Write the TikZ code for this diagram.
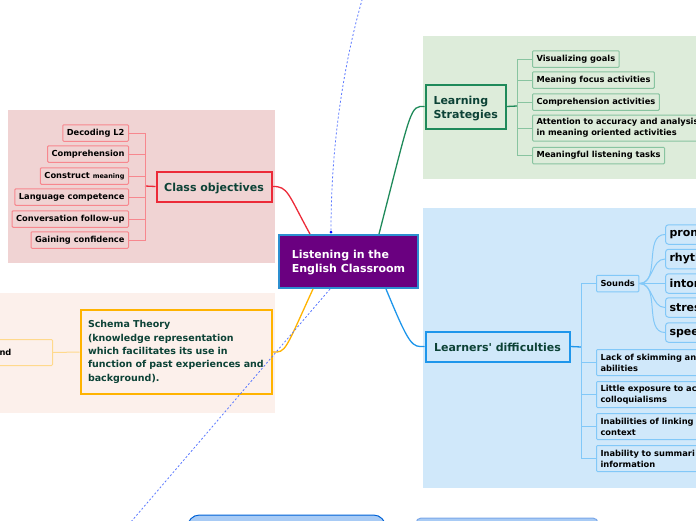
\documentclass[tikz,border=0pt]{standalone}
\usepackage{fontspec}
\setmainfont{DejaVu Sans}
\newfontfamily\plainfont{DejaVu Sans}
\usepackage{xcolor}
\usepackage{tikz}
\definecolor{rootfill}{RGB}{106,0,128}
\definecolor{rootline}{RGB}{45,143,208}
\definecolor{darkink}{RGB}{12,66,54}
\definecolor{redbg}{RGB}{240,211,211}
\definecolor{redline}{RGB}{236,42,56}
\definecolor{redsub}{RGB}{247,135,142}
\definecolor{orangebg}{RGB}{252,240,235}
\definecolor{orangeline}{RGB}{255,179,0}
\definecolor{orangesub}{RGB}{255,217,140}
\definecolor{greenbg}{RGB}{221,236,218}
\definecolor{greenline}{RGB}{31,138,90}
\definecolor{greensub}{RGB}{136,196,160}
\definecolor{bluebg}{RGB}{208,232,250}
\definecolor{blueline}{RGB}{30,150,235}
\definecolor{bluesub}{RGB}{130,200,248}
\definecolor{linkblue}{RGB}{90,120,255}
\definecolor{topicfill}{RGB}{168,203,245}
\definecolor{topicdark}{RGB}{0,98,214}
\definecolor{topiclight}{RGB}{123,167,232}
\tikzstyle{mainbox}=[draw,line width=2pt,font=\fontsize{11}{14}\selectfont\bfseries,text=darkink,align=left,inner sep=0pt]
\tikzstyle{subbox}=[draw,line width=1pt,rounded corners=1pt,font=\fontsize{8.3}{11}\selectfont\bfseries,text=black,align=left,inner xsep=4pt,inner ysep=0pt,minimum height=16.5pt]
\tikzstyle{bigbox}=[subbox,rounded corners=3pt,font=\fontsize{11}{12}\selectfont\bfseries,minimum height=19.5pt,text width=52pt]
\tikzstyle{mainlink}=[line width=1.3pt]
\tikzstyle{sublink}=[line width=1pt]
\tikzstyle{linkdash}=[linkblue,dash pattern=on 2pt off 2pt,line width=0.8pt]

\begin{document}
\begin{tikzpicture}[x=1pt,y=-1pt]

\useasboundingbox (0,0) rectangle (696,520);
\clip (0,0) rectangle (696,520);

\fill[redbg] (8,110) rectangle (275,263);
\fill[orangebg] (0,293) rectangle (275,413);
\fill[greenbg] (423,36) rectangle (696,179);
\fill[bluebg] (423,208) rectangle (696,488);

\node[mainbox, fill=rootfill, draw=rootline, text=white, minimum width=139pt, minimum height=53pt, anchor=north west] (root) at (278,234) {\rule{0pt}{11pt}Listening in the\\English Classroom};

\node[mainbox, draw=redline, fill=redbg, minimum width=115pt, minimum height=30pt, align=center] (classobj) at (214,186.5) {\raisebox{-1.5pt}[9pt][2pt]{Class objectives}};
\node[subbox, draw=redsub, anchor=east] (decoding) at (129,133) {Decoding L2};
\node[subbox, draw=redsub, anchor=east] (compr) at (129,154) {Comprehension};
\node[subbox, draw=redsub, anchor=east] (construct) at (129,176) {Construct {\fontsize{6.5}{8}\selectfont meaning}};
\node[subbox, draw=redsub, anchor=east] (language) at (129,197) {Language competence};
\node[subbox, draw=redsub, anchor=east] (convers) at (129,219) {Conversation follow-up};
\node[subbox, draw=redsub, anchor=east] (gaining) at (129,240) {Gaining confidence};
\coordinate (redbus) at (145,186);
\draw[redline, mainlink] (classobj.west) -- (redbus);
\foreach \n in {decoding,compr,construct,language,convers,gaining}
  \draw[redsub, sublink] (\n.east) -| (redbus);
\draw[redline, mainlink] (classobj.east) .. controls (288,186) and (288,194) .. ([xshift=32pt]root.north west);

\node[mainbox, draw=orangeline, fill=orangebg, minimum width=191pt, minimum height=84pt, text width=176pt, font=\fontsize{9.5}{13.3}\selectfont\bfseries] (schema) at (176,352) {Schema Theory\\(knowledge representation\\which facilitates its use in\\function of past experiences and\\background).};
\node[subbox, draw=orangesub, fill=orangebg, anchor=east, minimum height=26pt, align=right, inner xsep=42pt, text width=11pt] (background) at (53,352.5) {nd};
\draw[orangesub, sublink] (background.east) -- (schema.west);
\draw[orangeline, mainlink] (schema.east) .. controls (286,353) and (285,350) .. ([xshift=35pt]root.south west);

\node[mainbox, draw=greenline, fill=greenbg, minimum width=80pt, minimum height=44pt, text width=64pt] (learning) at (465.5,106.5) {\rule{0pt}{12pt}Learning\\Strategies};
\node[subbox, draw=greensub, anchor=west] (goals) at (532,59) {Visualizing goals};
\node[subbox, draw=greensub, anchor=west] (focus) at (532,80) {Meaning focus activities};
\node[subbox, draw=greensub, anchor=west] (comprehension) at (532,102) {Comprehension activities};
\node[subbox, draw=greensub, anchor=west, minimum height=26pt, text width=190pt] (attention) at (532,128) {Attention to accuracy and analysis\\in meaning oriented activities};
\node[subbox, draw=greensub, anchor=west] (tasks) at (532,155.5) {Meaningful listening tasks};
\coordinate (greenbus) at (517,106);
\draw[greenline, mainlink] (learning.east) -- (greenbus);
\foreach \n in {goals,focus,comprehension,attention,tasks}
  \draw[greensub, sublink] (\n.west) -| (greenbus);
\draw[greenline, mainlink] (learning.west) .. controls (410,106) and (412,106) .. ([xshift=101pt]root.north west);

\node[mainbox, draw=blueline, fill=bluebg, minimum width=144pt, minimum height=30pt, align=center] (difficult) at (497.5,346.5) {\raisebox{-1.5pt}[9pt][2pt]{\plainfont\bfseries Learners' difficulties}};
\node[subbox, draw=bluesub, anchor=west] (sounds) at (596,283.5) {Sounds};
\node[bigbox, draw=bluesub, anchor=west] (pron) at (665,234.5) {pron};
\node[bigbox, draw=bluesub, anchor=west] (rhyth) at (665,259) {rhyth};
\node[bigbox, draw=bluesub, anchor=west] (inton) at (665,283.5) {inton};
\node[bigbox, draw=bluesub, anchor=west] (stress) at (665,307.5) {stress};
\node[bigbox, draw=bluesub, anchor=west] (speed) at (665,332.5) {speed};
\foreach \n in {pron,rhyth,inton,stress,speed}
  \draw[bluesub, sublink] (sounds.east) to[out=0,in=180] (\n.west);
\node[subbox, draw=bluesub, anchor=west, minimum height=26pt, text width=142pt] (skimming) at (596,362.5) {Lack of skimming and\\abilities};
\node[subbox, draw=bluesub, anchor=west, minimum height=26pt, text width=142pt] (exposure) at (596,394.5) {Little exposure to ac\\colloquialisms};
\node[subbox, draw=bluesub, anchor=west, minimum height=26pt, text width=142pt] (linking) at (596,426.5) {Inabilities of linking\\context};
\node[subbox, draw=bluesub, anchor=west, minimum height=26pt, text width=142pt] (summar) at (596,458.5) {Inability to summari\\information};
\coordinate (bluebus) at (581,347);
\draw[blueline, mainlink] (difficult.east) -- (bluebus);
\foreach \n in {sounds,skimming,exposure,linking,summar}
  \draw[bluesub, sublink] (\n.west) -| (bluebus);
\draw[blueline, mainlink] (difficult.west) .. controls (412,347) and (410,347) .. ([xshift=108pt]root.south west);

\node[draw=topicdark, fill=topicfill, line width=1pt, rounded corners=12pt, minimum width=198pt, minimum height=40pt, anchor=north west] (topicleft) at (187,514.5) {};
\node[draw=topiclight, fill=topicfill, line width=1pt, rounded corners=5pt, minimum width=182pt, minimum height=40pt, anchor=north west] (topicright) at (415.5,517.5) {};

\node[circle, fill=blue, inner sep=0pt, minimum size=3pt] (linkdot) at (331,232) {};
\coordinate (linktop) at (362,0);
\coordinate (linkbottom) at (130,523);
\draw[linkdash] (linkdot) .. controls (331,140) and (345,60) .. (linktop);
\draw[linkdash] ([xshift=52pt]root.south west) -- (linkbottom);

\end{tikzpicture}
\end{document}
